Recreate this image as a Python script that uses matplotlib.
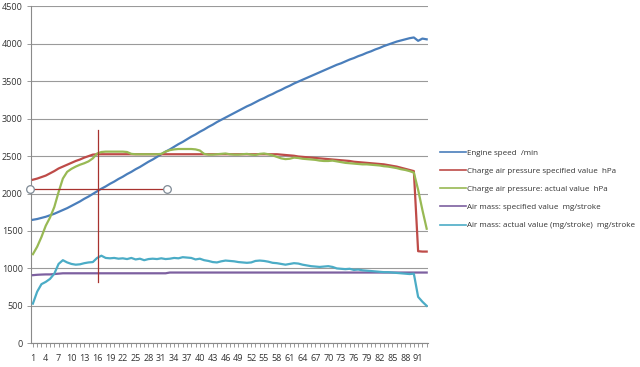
import matplotlib
matplotlib.use("Agg")
import matplotlib.pyplot as plt
from matplotlib.lines import Line2D

categories = list(range(1, 94))

engine_speed = [1650, 1660, 1675, 1690, 1710, 1730, 1755, 1780, 1805, 1835,
                1865, 1895, 1930, 1960, 1995, 2030, 2065, 2095, 2130, 2160,
                2195, 2225, 2260, 2290, 2325, 2355, 2390, 2425, 2455, 2490,
                2525, 2560, 2590, 2625, 2660, 2690, 2725, 2760, 2790, 2825,
                2855, 2890, 2920, 2955, 2985, 3015, 3045, 3075, 3105, 3135,
                3165, 3190, 3220, 3250, 3275, 3305, 3330, 3360, 3385, 3415,
                3440, 3470, 3495, 3520, 3545, 3570, 3595, 3620, 3645, 3670,
                3695, 3720, 3740, 3765, 3790, 3810, 3835, 3855, 3880, 3900,
                3925, 3945, 3970, 3990, 4010, 4030, 4045, 4060, 4075, 4085,
                4040, 4070, 4060]

charge_spec = [2185, 2200, 2220, 2240, 2270, 2300, 2335, 2360, 2385, 2410,
               2435, 2455, 2480, 2500, 2520, 2525, 2525, 2525, 2525, 2525,
               2525, 2525, 2525, 2525, 2525, 2525, 2525, 2525, 2525, 2525,
               2525, 2525, 2525, 2525, 2525, 2525, 2525, 2525, 2525, 2525,
               2525, 2525, 2525, 2525, 2525, 2525, 2525, 2525, 2525, 2525,
               2525, 2525, 2525, 2525, 2525, 2525, 2525, 2525, 2520, 2515,
               2510, 2505, 2495, 2490, 2485, 2480, 2475, 2470, 2465, 2460,
               2455, 2450, 2445, 2440, 2435, 2425, 2420, 2415, 2410, 2405,
               2400, 2395, 2390, 2380, 2370, 2360, 2345, 2330, 2315, 2300,
               1230, 1225, 1225]

charge_actual = [1190, 1290, 1420, 1570, 1680, 1820, 2020, 2200, 2290, 2330,
                 2360, 2385, 2405, 2430, 2470, 2535, 2555, 2560, 2560, 2560,
                 2560, 2560, 2555, 2530, 2525, 2525, 2525, 2525, 2525, 2525,
                 2530, 2560, 2580, 2590, 2595, 2595, 2595, 2595, 2590, 2575,
                 2530, 2520, 2520, 2525, 2530, 2535, 2525, 2520, 2520, 2525,
                 2530, 2520, 2515, 2530, 2535, 2525, 2510, 2490, 2470, 2460,
                 2465, 2480, 2475, 2465, 2460, 2455, 2450, 2440, 2435, 2435,
                 2440, 2430, 2420, 2410, 2405, 2400, 2395, 2390, 2390, 2385,
                 2380, 2375, 2365, 2360, 2350, 2340, 2325, 2315, 2300, 2280,
                 2050, 1780, 1530]

airmass_spec = [910, 915, 918, 920, 920, 925, 930, 935, 935, 935,
                935, 935, 935, 935, 935, 935, 935, 935, 935, 935,
                935, 935, 935, 935, 935, 935, 935, 935, 935, 935,
                935, 935, 945, 945, 945, 945, 945, 945, 945, 945,
                945, 945, 945, 945, 945, 945, 945, 945, 945, 945,
                945, 945, 945, 945, 945, 945, 945, 945, 945, 945,
                945, 945, 945, 945, 945, 945, 945, 945, 945, 945,
                945, 945, 945, 945, 945, 945, 945, 945, 945, 945,
                945, 945, 945, 945, 945, 945, 945, 945, 945, 945,
                945, 945, 945]

airmass_actual = [530, 690, 790, 820, 860, 930, 1060, 1110, 1080, 1060,
                  1050, 1055, 1070, 1080, 1085, 1140, 1170, 1140, 1135, 1140,
                  1130, 1135, 1125, 1140, 1120, 1130, 1110, 1125, 1130, 1125,
                  1135, 1125, 1130, 1140, 1135, 1150, 1145, 1140, 1120, 1130,
                  1110, 1100, 1085, 1080, 1095, 1105, 1100, 1095, 1085, 1080,
                  1075, 1080, 1100, 1105, 1100, 1090, 1075, 1070, 1060, 1050,
                  1060, 1070, 1065, 1050, 1040, 1030, 1025, 1020, 1025, 1030,
                  1020, 1000, 995, 990, 995, 980, 985, 975, 970, 965,
                  960, 955, 950, 950, 945, 940, 935, 930, 925, 930,
                  620, 555, 500]

series_names = ["Engine speed  /min",
                "Charge air pressure specified value  hPa",
                "Charge air pressure: actual value  hPa",
                "Air mass: specified value  mg/stroke",
                "Air mass: actual value (mg/stroke)  mg/stroke"]
series_colors = ["#4A7EBB", "#BE4B48", "#98B954", "#7D60A0", "#4BACC6"]
tick_labels = [str(c) for c in categories[::3]]

# cursor annotation (drawn shapes)
cursor_x = 16.2
cursor_y = 2060
cursor_vspan = (820, 2850)
cursor_hspan = (0.3, 32.3)

plt.rcParams['font.family'] = ['Open Sans', 'DejaVu Sans']

fig = plt.figure(figsize=(6.4, 3.67), dpi=100)
ax = fig.add_axes([0.0484, 0.0646, 0.6203, 0.918])

data = [engine_speed, charge_spec, charge_actual, airmass_spec, airmass_actual]
for vals, c, n in zip(data, series_colors, series_names):
    ax.plot(categories, vals, color=c, lw=1.6, label=n, solid_joinstyle='round', zorder=3)

ax.set_xlim(0.55, 93.3)
ax.set_ylim(0, 4500)
ax.set_yticks(range(0, 4501, 500))
ax.set_xticks(categories[::3])
ax.set_xticklabels(tick_labels)
ax.set_xticks(categories, minor=True)
ax.yaxis.grid(True, color='#9a9a9a', lw=0.8)
ax.set_axisbelow(True)
for s in ['top', 'right']:
    ax.spines[s].set_visible(False)
ax.spines['left'].set_color('#8a8a8a')
ax.spines['bottom'].set_color('#8a8a8a')
ax.spines['left'].set_linewidth(0.8)
ax.spines['bottom'].set_linewidth(0.8)
ax.tick_params(axis='y', labelsize=6.5, colors='#333333', length=3, width=0.6,
               pad=3, color='#8a8a8a')
ax.tick_params(axis='x', which='major', labelsize=6.5, colors='#333333', length=3,
               width=0.6, pad=5, color='#8a8a8a')
ax.tick_params(axis='x', which='minor', length=3, width=0.6, color='#8a8a8a')

# cursor lines
ax.plot([cursor_x, cursor_x], cursor_vspan, color='#A8322F', lw=0.9, zorder=4, clip_on=False)
ax.plot(cursor_hspan, [cursor_y, cursor_y], color='#A8322F', lw=0.9, zorder=4, clip_on=False)
ax.plot(cursor_hspan, [cursor_y, cursor_y], ls='none', marker='o', ms=5.5,
        mfc='white', mec='#7f8a95', mew=0.9, zorder=5, clip_on=False)

handles = [Line2D([0], [0], color=c, lw=1.2) for c in series_colors]
fig.legend(handles, series_names, loc='upper left', bbox_to_anchor=(0.682, 0.602),
           frameon=False, fontsize=5.8, handlelength=3.3, handletextpad=0.1,
           labelspacing=1.3, borderaxespad=0, labelcolor='#333333')

fig.savefig("out.png", dpi=100)
